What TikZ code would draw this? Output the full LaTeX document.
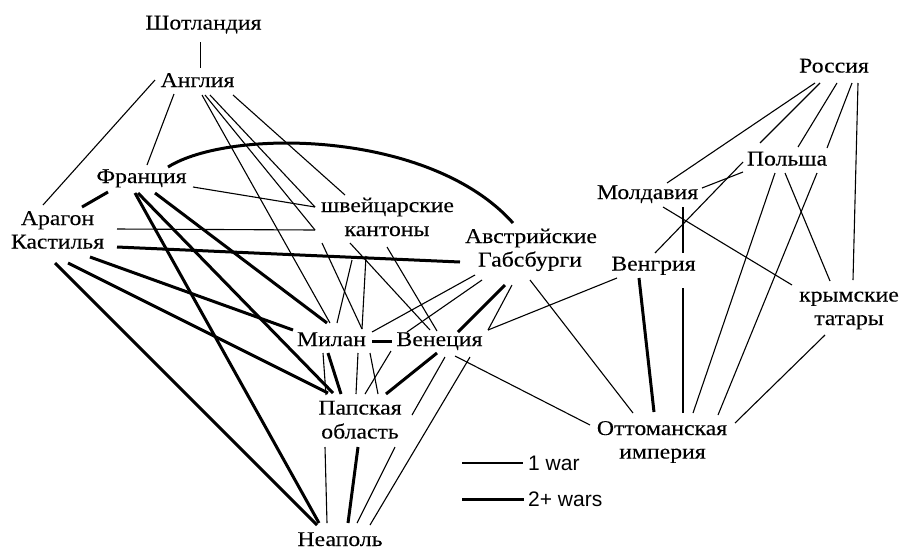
\documentclass[tikz,border=0pt]{standalone}
\usepackage{fontspec}
\setmainfont{Liberation Serif}[FakeStretch=1.13,FakeBold=0.1]
\newfontfamily\legendfont{Liberation Sans}
\usetikzlibrary{calc}
\begin{document}
\begin{tikzpicture}[x=1pt,y=-1pt,
  lbl/.style={anchor=base, inner sep=0pt, font=\fontsize{21}{24}\selectfont},
  leg/.style={anchor=base west, inner sep=0pt, font=\legendfont\fontsize{21}{24}\selectfont},
  onewar/.style={line width=1.1pt},
  twowars/.style={line width=3pt}]
\fill[white] (0,0) rectangle (901,550);
\useasboundingbox (0,0) rectangle (901,550);
% nodes
\node[lbl] (shot) at (203.5,29.5) {Шотландия};
\node[lbl] (angl) at (197.5,87) {Англия};
\node[lbl] (fran) at (141.5,183) {Франция};
\node[lbl] (arag) at (57.5,225) {Арагон};
\node[lbl] (kast) at (57.5,248.5) {Кастилья};
\node[lbl] (swa) at (387.5,212) {швейцарские};
\node[lbl] (swb) at (387,236) {кантоны};
\node[lbl] (ausa) at (531,243) {Австрийские};
\node[lbl] (ausb) at (530,266.5) {Габсбурги};
\node[lbl] (milan) at (331.5,346) {Милан};
\node[lbl] (ven) at (439.5,346) {Венеция};
\node[lbl] (papa) at (360,414.5) {Папская};
\node[lbl] (papb) at (360,438.5) {область};
\node[lbl] (neap) at (340,546) {Неаполь};
\node[lbl] (ross) at (834,72.5) {Россия};
\node[lbl] (pol) at (787,165.5) {Польша};
\node[lbl] (mold) at (647.5,199) {Молдавия};
\node[lbl] (veng) at (653.5,270.5) {Венгрия};
\node[lbl] (krya) at (849,301.5) {крымские};
\node[lbl] (kryb) at (849,325) {татары};
\node[lbl] (otta) at (662,435) {Оттоманская};
\node[lbl] (ottb) at (662.5,458.5) {империя};
\node[leg] (w1) at (528,470) {1 war};
\node[leg] (w2) at (528,506) {2+ wars};
% legend
\draw[onewar] ($(w1.base west)+(-66,-7)$) -- ($(w1.base west)+(-5,-7)$);
\draw[twowars] ($(w2.base west)+(-66,-7)$) -- ($(w2.base west)+(-4,-7)$);
% west
\draw[onewar] ($(shot.base)+(-3,12.5)$) -- ($(angl.base)+(3,-19)$);
\draw[onewar] ($(angl.base)+(-42.5,-7)$) -- ($(arag.base)+(-14.5,-20)$);
\draw[onewar] ($(angl.base)+(-23.5,7)$) -- ($(fran.base)+(5.5,-18)$);
\draw[onewar] ($(angl.base)+(4.5,8)$) -- ($(milan.base)+(-1.5,-23)$);
\draw[onewar] ($(angl.base)+(7.5,8)$) -- ($(swb.base)+(-72,-6)$);
\draw[onewar] ($(angl.base)+(12.5,8)$) -- ($(swa.base)+(-72.5,-5)$);
\draw[onewar] ($(angl.base)+(35.5,8)$) -- ($(swa.base)+(-42.5,-17)$);
\draw[onewar] ($(fran.base)+(51.5,4)$) -- ($(swa.base)+(-72.5,-5)$);
\draw[onewar] ($(arag.base)+(59.5,4)$) -- ($(swb.base)+(-72,-6)$);
\draw[twowars] ($(arag.base)+(24.5,-18)$) -- ($(fran.base)+(-33.5,9)$);
\draw[twowars] ($(kast.base)+(59.5,-1.5)$) -- ($(ausb.base)+(-70,-4.5)$);
\draw[twowars] ($(fran.base)+(26.5,-16)$) .. controls +(62,-39) and +(-83,-93) .. ($(ausa.base)+(-18,-20)$);
\draw[twowars] ($(kast.base)+(-2.5,14.5)$) -- ($(neap.base)+(-23,-21)$);
\draw[twowars] ($(kast.base)+(10.5,14.5)$) -- ($(papa.base)+(-32,-21.5)$);
\draw[twowars] ($(kast.base)+(32.5,8.5)$) -- ($(milan.base)+(-38.5,-16)$);
\draw[twowars] ($(fran.base)+(-6.5,10)$) -- ($(neap.base)+(-21,-23)$);
\draw[twowars] ($(fran.base)+(-3.5,10)$) -- ($(papa.base)+(-27,-21.5)$);
\draw[twowars] ($(fran.base)+(13.5,10)$) -- ($(milan.base)+(-4.5,-23)$);
% centre
\draw[twowars] ($(milan.base)+(40.5,-5)$) -- ($(ven.base)+(-47.5,-5)$);
\draw[onewar] ($(milan.base)+(-8.5,7)$) -- ($(papa.base)+(-34,-19.5)$);
\draw[twowars] ($(milan.base)+(-3.5,7)$) -- ($(papa.base)+(-19,-20.5)$);
\draw[onewar] ($(milan.base)+(26.5,7)$) -- ($(papa.base)+(-4,-20.5)$);
\draw[onewar] ($(milan.base)+(38.5,7)$) -- ($(papa.base)+(18,-20.5)$);
\draw[onewar] ($(ven.base)+(-48.5,5)$) -- ($(papa.base)+(5,-20.5)$);
\draw[twowars] ($(ven.base)+(-2.5,7)$) -- ($(papa.base)+(26,-20.5)$);
\draw[onewar] ($(ven.base)+(5.5,11)$) -- ($(papa.base)+(52,0.5)$);
\draw[onewar] ($(papb.base)+(35,8.5)$) -- ($(neap.base)+(17,-23)$);
\draw[onewar] ($(ven.base)+(30.5,11)$) -- ($(neap.base)+(30,-21)$);
\draw[onewar] ($(ven.base)+(15.5,10)$) -- ($(otta.base)+(-72,-10)$);
\draw[onewar] ($(papb.base)+(-35,8.5)$) -- ($(neap.base)+(-13,-23)$);
\draw[twowars] ($(papb.base)+(-2,8.5)$) -- ($(neap.base)+(8,-23)$);
\draw[onewar] ($(swb.base)+(-65,7)$) -- ($(milan.base)+(30.5,-17)$);
\draw[onewar] ($(swb.base)+(-21,20)$) -- ($(milan.base)+(30.5,-17)$);
\draw[onewar] ($(swb.base)+(-35,24)$) -- ($(milan.base)+(5.5,-23)$);
\draw[onewar] ($(swb.base)+(-37,7)$) -- ($(ven.base)+(-9.5,-16)$);
\draw[onewar] ($(swb.base)+(0,11)$) -- ($(ven.base)+(-2.5,-15)$);
\draw[onewar] ($(ausb.base)+(-55,8.5)$) -- ($(milan.base)+(40.5,-14)$);
\draw[onewar] ($(ausb.base)+(-48,13.5)$) -- ($(ven.base)+(-32.5,-14)$);
\draw[twowars] ($(ausb.base)+(-25,18.5)$) -- ($(ven.base)+(18.5,-14)$);
\draw[onewar] ($(ausb.base)+(-18,18.5)$) -- ($(ven.base)+(48.5,-16)$);
\draw[onewar] ($(veng.base)+(-36.5,7.5)$) -- ($(ven.base)+(48.5,-16)$);
\draw[onewar] ($(ausb.base)+(0,13.5)$) -- ($(otta.base)+(-29,-22)$);
% east
\draw[twowars] ($(veng.base)+(-14.5,7.5)$) -- ($(otta.base)+(-8,-23)$);
\draw[onewar] ($(mold.base)+(35.5,8)$) -- ($(veng.base)+(29.5,-17.5)$);
\draw[onewar] ($(veng.base)+(29.5,17.5)$) -- ($(otta.base)+(21,-22)$);
\draw[onewar] ($(mold.base)+(54.5,-11)$) -- ($(pol.base)+(-44,6.5)$);
\draw[onewar] ($(ross.base)+(-14,10.5)$) -- ($(pol.base)+(-27,-22.5)$);
\draw[onewar] ($(pol.base)+(-44,-3.5)$) -- ($(veng.base)+(1.5,-17.5)$);
\draw[onewar] ($(ross.base)+(-19,10.5)$) -- ($(mold.base)+(19.5,-16)$);
\draw[onewar] ($(ross.base)+(3,10.5)$) -- ($(pol.base)+(11,-18.5)$);
\draw[onewar] ($(ross.base)+(18,10.5)$) -- ($(pol.base)+(40,-17.5)$);
\draw[onewar] ($(pol.base)+(30,7.5)$) -- ($(otta.base)+(56,-20)$);
\draw[onewar] ($(ross.base)+(24,10.5)$) -- ($(krya.base)+(4,-21.5)$);
\draw[onewar] ($(pol.base)+(-12,7.5)$) -- ($(otta.base)+(31,-22)$);
\draw[onewar] ($(pol.base)+(-2,7.5)$) -- ($(krya.base)+(-19,-20.5)$);
\draw[onewar] ($(mold.base)+(15.5,8)$) -- ($(krya.base)+(-57,-16.5)$);
\draw[onewar] ($(kryb.base)+(-24,10)$) -- ($(otta.base)+(73,-12)$);
\end{tikzpicture}
\end{document}
